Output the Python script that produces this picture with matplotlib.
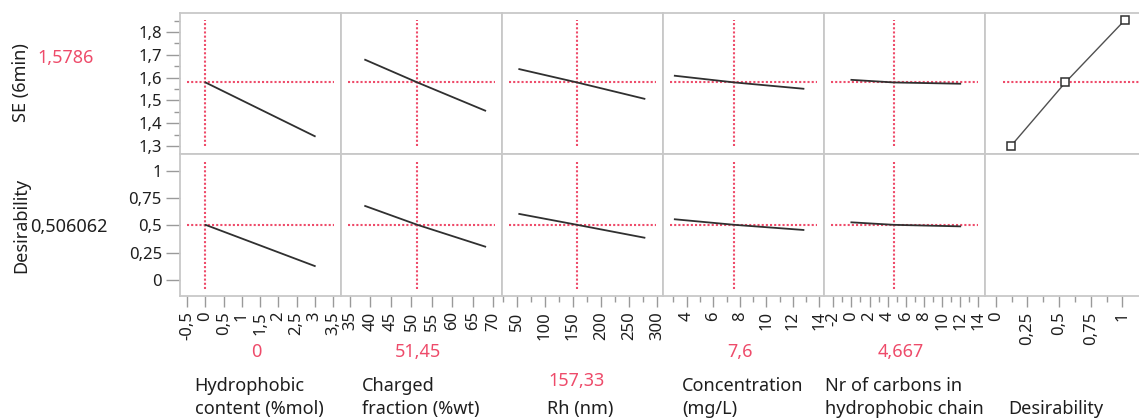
import numpy as np
import matplotlib
matplotlib.use("Agg")
import matplotlib.pyplot as plt
from matplotlib.ticker import FixedLocator, FuncFormatter

plt.rcParams['font.family'] = ['Noto Sans', 'DejaVu Sans']

# factor settings
factors = ["Hydrophobic\ncontent (%mol)", "Charged\nfraction (%wt)", "Rh (nm)",
           "Concentration\n(mg/L)", "Nr of carbons in\nhydrophobic chain"]
current = [0, 51.45, 157.33, 7.6, 4.667]
current_labels = ["0", "51,45", "157,33", "7,6", "4,667"]

# profile traces: x at low end, current setting, high end
x_lo = [0, 38.7, 54.6, 3.1, 0]
x_hi = [3, 68, 277, 12.8, 12]
se_lo = [1.5786, 1.678, 1.637, 1.608, 1.590]
se_hi = [1.343, 1.455, 1.507, 1.551, 1.573]
des_lo = [0.506, 0.679, 0.606, 0.557, 0.529]
des_hi = [0.128, 0.306, 0.388, 0.459, 0.492]

se_current = 1.5786
se_label = "1,5786"
des_current = 0.506062
des_label = "0,506062"

# desirability function for SE
dfun_x = [0.12, 0.55, 1.02]
dfun_y = [1.30, 1.5786, 1.852]

# axis scales
xlims = [(-0.70, 3.72), (32.8, 72.1), (23.9, 310), (2.21, 14.35), (-3.02, 14.73), (-0.085, 1.187)]
x_major = [np.arange(-0.5, 3.51, 0.5), np.arange(35, 71, 5), np.arange(50, 301, 50),
           np.arange(4, 15, 2), np.arange(-2, 15, 2), [0, 0.25, 0.5, 0.75, 1]]
x_minor = [[], [], np.arange(25, 310, 50), np.arange(3, 14, 2), np.arange(-1, 14, 2),
           [0.125, 0.375, 0.625, 0.875]]
se_ylim = (1.265, 1.883)
des_ylim = (-0.147, 1.156)

W, H = 1139, 419
RED = '#EE4B6A'
GRID = '#c8c8c8'
TXT = '#1e1e1e'
LINE = '#303030'
TICK_FS = 12
LAB_FS = 13


def comma(v, pos=None):
    s = '{:g}'.format(round(v, 4))
    return s.replace('.', ',')


def px(x, y):
    return x / W, 1 - y / H


fig = plt.figure(figsize=(W / 100, H / 100), dpi=100)

left, colw = 180, 161
rows = [(13, 154), (154, 296)]
axes = {}
for r, (top, bot) in enumerate(rows):
    for c in range(6):
        ax = fig.add_axes([(left + c * colw) / W, 1 - bot / H, colw / W, (bot - top) / H])
        axes[r, c] = ax
        ax.set_xlim(*xlims[c])
        ax.set_ylim(*(se_ylim if r == 0 else des_ylim))
        for s in ax.spines.values():
            s.set_color(GRID)
            s.set_linewidth(1.3)
        ax.tick_params(which='both', colors='#9a9a9a', labelcolor=TXT, labelsize=TICK_FS)
        ax.tick_params(which='major', length=8, width=1)
        ax.tick_params(which='minor', length=4, width=1)
        if r == 1:
            ax.xaxis.set_major_locator(FixedLocator(x_major[c]))
            ax.xaxis.set_minor_locator(FixedLocator(x_minor[c]))
            ax.xaxis.set_major_formatter(FuncFormatter(comma))
            ax.tick_params(axis='x', labelrotation=90, pad=3)
        else:
            ax.set_xticks([])
        if c == 0:
            if r == 0:
                ax.yaxis.set_major_locator(FixedLocator(np.arange(1.3, 1.81, 0.1)))
                ax.yaxis.set_minor_locator(FixedLocator(np.arange(1.25, 1.86, 0.1)))
            else:
                ax.yaxis.set_major_locator(FixedLocator([0, 0.25, 0.5, 0.75, 1]))
            ax.yaxis.set_major_formatter(FuncFormatter(comma))
            ax.tick_params(axis='y', which='major', length=10, pad=3)
        else:
            ax.set_yticks([])

# profile traces with crosshairs
dot = (0, (1, 1))
for c in range(5):
    ax = axes[0, c]
    ax.plot([x_lo[c], current[c], x_hi[c]], [se_lo[c], se_current, se_hi[c]],
            color=LINE, lw=1.3, zorder=3)
    ax.axhline(se_current, xmin=0.045, xmax=0.955, color=RED, lw=1.5, ls=dot, zorder=2)
    ax.axvline(current[c], ymin=0.057, ymax=0.95, color=RED, lw=1.5, ls=dot, zorder=2)

    ax = axes[1, c]
    ax.plot([x_lo[c], current[c], x_hi[c]], [des_lo[c], des_current, des_hi[c]],
            color=LINE, lw=1.3, zorder=3)
    ax.axhline(des_current, xmin=0.045, xmax=0.955, color=RED, lw=1.5, ls=dot, zorder=2)
    ax.axvline(current[c], ymin=0.05, ymax=0.946, color=RED, lw=1.5, ls=dot, zorder=2)

# desirability function panel
ax = axes[0, 5]
ax.axhline(se_current, xmin=0.11, xmax=0.97, color=RED, lw=1.5, ls=dot, zorder=2)
ax.plot(dfun_x, dfun_y, color='#505050', lw=1, marker='s', markersize=6,
        markerfacecolor='white', markeredgecolor='#303030', markeredgewidth=1.1, zorder=3)

# response labels on the left
fig.text(*px(21, 83), "SE (6min)", rotation=90, ha='center', va='center', fontsize=LAB_FS, color=TXT)
fig.text(*px(66, 58), se_label, ha='center', va='center', fontsize=LAB_FS, color=RED)
fig.text(*px(21, 225), "Desirability", rotation=90, ha='center', va='center', fontsize=LAB_FS, color=TXT)
fig.text(*px(69, 227), des_label, ha='center', va='center', fontsize=LAB_FS, color=TXT)

# factor labels below
label_cx = [259, 420.5, 580, 743, 904, 1056]
for c in range(6):
    name = factors[c] if c < 5 else "Desirability"
    nlines = name.count("\n") + 1
    fig.text(*px(label_cx[c], 418), name, ha='center', va='bottom', multialignment='left',
             fontsize=LAB_FS, color=TXT, linespacing=1.38)
    if c < 5:
        red_y = 352 if nlines == 2 else 381
        fig.text(*px(label_cx[c] - 3, red_y), current_labels[c],
                 ha='center', va='center', fontsize=LAB_FS, color=RED)

fig.savefig('out.png', dpi=100)
